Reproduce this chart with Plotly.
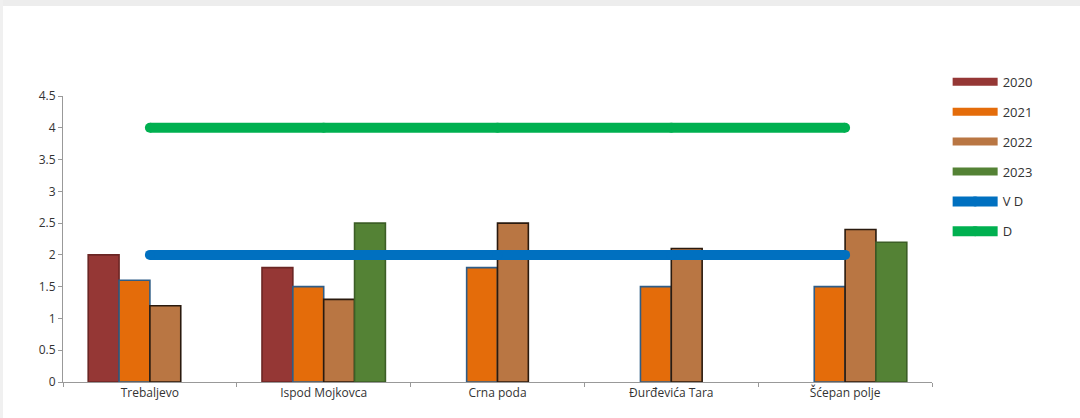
import plotly.graph_objects as go

categories = ["Trebaljevo", "Ispod Mojkovca", "Crna poda", "Đurđevića Tara", "Šćepan polje"]
v2020 = [2.0, 1.8, None, None, None]
v2021 = [1.6, 1.5, 1.8, 1.5, 1.5]
v2022 = [1.2, 1.3, 2.5, 2.1, 2.4]
v2023 = [None, 2.5, None, None, 2.2]
vd = [2, 2, 2, 2, 2]
d = [4, 4, 4, 4, 4]
y_ticks = [0, 0.5, 1, 1.5, 2, 2.5, 3, 3.5, 4, 4.5]
y_tick_labels = ["0", "0.5", "1", "1.5", "2", "2.5", "3", "3.5", "4", "4.5"]

FONT = "Open Sans, Lato, sans-serif"

fig = go.Figure()
bar_specs = [
    ("2020", v2020, "#953735", "#6B2624"),
    ("2021", v2021, "#E46C0A", "#2F5D87"),
    ("2022", v2022, "#B97643", "#2A1A0E"),
    ("2023", v2023, "#548235", "#3C5E26"),
]
for name, vals, col, lc in bar_specs:
    fig.add_trace(go.Bar(
        x=categories, y=vals, name=name,
        marker=dict(color=col, line=dict(color=lc, width=1.6)),
        legendgroup=name, showlegend=False,
    ))
    # legend swatch drawn as a wide rectangle-like line
    fig.add_trace(go.Scatter(
        x=[None], y=[None], name=name, mode="lines",
        line=dict(color=col, width=8),
        legendgroup=name, showlegend=True,
    ))

for name, vals, col in [("V D", vd, "#0070C0"), ("D", d, "#00B050")]:
    fig.add_trace(go.Scatter(
        x=categories, y=vals, name=name, mode="lines+markers",
        line=dict(color=col, width=10),
        marker=dict(color=col, size=10),
        legendgroup=name,
    ))

fig.update_layout(
    width=1080, height=418,
    margin=dict(l=63, r=148, t=96, b=36),
    paper_bgcolor="white", plot_bgcolor="white",
    barmode="group", bargap=0.29, bargroupgap=0,
    font=dict(family=FONT, size=12, color="#404040"),
    showlegend=True,
    legend=dict(x=1.018, y=1.102, xanchor="left", yanchor="top",
                tracegroupgap=10, itemwidth=45,
                font=dict(family=FONT, size=13, color="#333333"),
                bgcolor="rgba(0,0,0,0)"),
    xaxis=dict(type="category", showline=True, linecolor="#999999", linewidth=1,
               ticks="outside", tickson="boundaries", ticklen=4, tickcolor="#999999",
               showgrid=False, tickfont=dict(family=FONT, size=12, color="#333333")),
    yaxis=dict(range=[0, 4.5], tickvals=y_ticks, ticktext=y_tick_labels,
               showline=True, linecolor="#999999", linewidth=1,
               ticks="outside", ticklen=4, tickcolor="#999999",
               showgrid=False, zeroline=False, tickfont=dict(family=FONT, size=12, color="#333333")),
    shapes=[
        dict(type="rect", xref="paper", yref="paper", layer="below",
             x0=-63 / 869, x1=1017 / 869, y0=1 + 90 / 286, y1=1 + 96 / 286,
             fillcolor="#EDEDED", line=dict(width=0)),
        dict(type="rect", xref="paper", yref="paper", layer="below",
             x0=-63 / 869, x1=-60 / 869, y0=-36 / 286, y1=1 + 96 / 286,
             fillcolor="#F0F0F0", line=dict(width=0)),
    ],
)

fig.write_html("out.html")
